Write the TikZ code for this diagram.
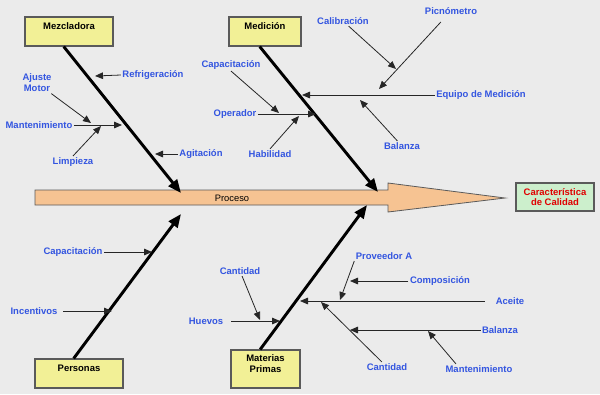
\documentclass[tikz,border=0pt]{standalone}
\usepackage{fontspec}
\setmainfont{Liberation Sans}
\usetikzlibrary{arrows.meta}
\definecolor{bg_gray}{HTML}{EBEBEB}
\definecolor{box_yellow}{HTML}{F2F096}
\definecolor{spine_orange}{HTML}{F6C392}
\definecolor{effect_green}{HTML}{CCEFCC}
\definecolor{cause_blue}{HTML}{3355E0}
\definecolor{effect_red}{HTML}{E00000}
\definecolor{EdgeGray}{HTML}{5A5A5A}
\newcommand{\fishfont}{\fontsize{7.1}{8.3}\selectfont\bfseries}
\tikzset{
  causebox/.style={rectangle, draw=EdgeGray, fill=box_yellow, text=black, font=\fishfont,
                   align=center, inner sep=1pt, minimum height=21.75pt, line width=0.8pt},
  effectbox/.style={rectangle, draw=EdgeGray, fill=effect_green, text=effect_red, font=\fishfont,
                    align=center, inner sep=1pt, minimum width=58.5pt, minimum height=21pt, line width=0.8pt},
  factor/.style={text=cause_blue, font=\fishfont, align=center, inner sep=1pt},
  bone/.style={-{Triangle[length=10pt,width=8pt]}, draw=black, line width=2.2pt},
  twig/.style={-{Triangle[length=6pt,width=5pt]}, draw=black!85, line width=0.6pt},
  spine/.style={fill=spine_orange, draw=EdgeGray, line width=0.6pt},
}

\begin{document}
\begin{tikzpicture}[x=0.75pt, y=-0.75pt]

  \path[use as bounding box, fill=bg_gray] (0,0) rectangle (600,394);

  % --- spine and effect ----------------------------------------------------
  \path[spine] (35,190) -- (388,190) -- (388,183) -- (505,198)
    -- (388,212) -- (388,205) -- (35,205) -- cycle;
  \node[font=\fontsize{7}{8}\selectfont, inner sep=1pt] (proceso) at (232,198) {Proceso};
  \node[effectbox] (efecto) at (555,197) {Característica\\[-0.8pt]de Calidad};

  \coordinate (sp-mez) at (181,193);
  \coordinate (sp-med) at (378,192);
  \coordinate (sp-per) at (181,214);
  \coordinate (sp-mat) at (367,205);

  % --- categories ----------------------------------------------------------
  \node[causebox, minimum width=66pt, text depth=8pt] (mezcladora) at (69,31.5) {Mezcladora};
  \node[causebox, minimum width=54pt, text depth=8pt] (medicion) at (265,31.5) {Medición};
  \node[causebox, minimum width=66pt, text depth=8pt] (personas) at (79,373.5) {Personas};
  \node[causebox, minimum width=51.75pt, minimum height=28.5pt] (materias) at (265.5,369)
    {Materias\\Primas\\~};

  \draw[bone] ([xshift=-4pt]mezcladora.south) -- (sp-mez);
  \draw[bone] ([xshift=-4pt]medicion.south) -- (sp-med);
  \draw[bone] ([xshift=-4pt]personas.north) -- (sp-per);
  \draw[bone] ([xshift=-4pt]materias.north) -- (sp-mat);

  % --- causes --------------------------------------------------------------
  \foreach \name/\x/\y/\txt in {
      refr/153/75/Refrigeración, ajus/37/83/{Ajuste\\Motor}, mantA/39/125/Mantenimiento,
      limp/73/162/Limpieza, agit/201/154/Agitación,
      capaM/231/65/Capacitación, oper/235/114/Operador, habi/270/154/Habilidad,
      equip/481/95/Equipo de Medición, cali/343/21/Calibración, pico/451/11/Picnómetro,
      balaM/402/146/Balanza,
      capaP/73/252/Capacitación, ince/34/311/Incentivos,
      huev/206/321/Huevos, cantA/240/271/Cantidad, prov/384/256/Proveedor A,
      comp/440/281/Composición, acei/510/301/Aceite, balaB/500/330/Balanza,
      cantB/387/367/Cantidad, mantB/479/369/Mantenimiento}
    \node[factor] (\name) at (\x,\y) {\txt};

  % where each cause arrow ends
  \coordinate (mz-refr) at (95,76);
  \coordinate (mz-mant) at (122,125);
  \coordinate (mz-agit) at (155,154);
  \coordinate (mant-ajus) at (91,123);
  \coordinate (mant-limp) at (101,126);
  \coordinate (md-oper) at (316,114);
  \coordinate (md-equip) at (302,95);
  \coordinate (oper-capa) at (279,113);
  \coordinate (oper-habi) at (299,116);
  \coordinate (equip-pico) at (379,89);
  \coordinate (equip-bala) at (360,100);
  \coordinate (pico-cali) at (396,69);
  \coordinate (ps-capa) at (152,252);
  \coordinate (ps-ince) at (112,311);
  \coordinate (mp-huev) at (280,321);
  \coordinate (mp-acei) at (300,301);
  \coordinate (huev-cant) at (260,320);
  \coordinate (acei-prov) at (340,300);
  \coordinate (acei-cant) at (321,302);
  \coordinate (prov-comp) at (350,281);
  \coordinate (cant-bala) at (350,330);
  \coordinate (bala-mant) at (428,331);

  \foreach \a/\b in {refr.west/mz-refr, mantA/mz-mant, ajus/mant-ajus, limp.north/mant-limp,
      agit/mz-agit, capaM.south/oper-capa, oper/md-oper, habi.north/oper-habi,
      equip/md-equip, cali/pico-cali, balaM/equip-bala, capaP/ps-capa,
      cantA/huev-cant, prov.south west/acei-prov, comp/prov-comp, balaB/cant-bala,
      cantB/acei-cant}
    \draw[twig] (\a) -- (\b);
  \draw[twig, shorten <=6pt] (pico) -- (equip-pico);
  \draw[twig, shorten <=3pt] (ince) -- (ps-ince);
  \draw[twig, shorten <=5pt] (huev) -- (mp-huev);
  \draw[twig, shorten <=7pt] (acei) -- (mp-acei);
  \draw[twig] ([xshift=9pt]mantB.north west) -- (bala-mant);

\end{tikzpicture}
\end{document}
